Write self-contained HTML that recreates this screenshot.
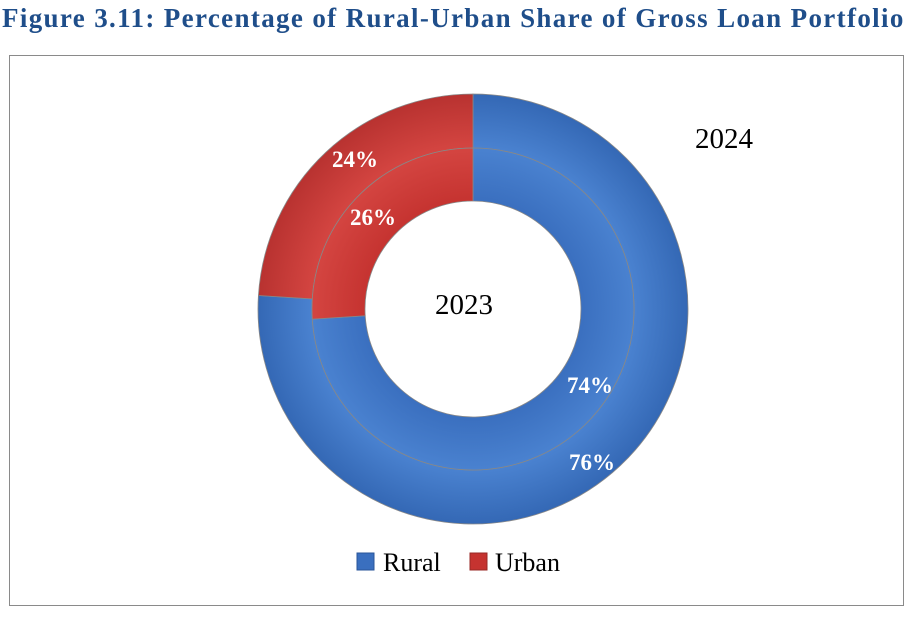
<!DOCTYPE html>
<html><head><meta charset="utf-8"><style>
body{margin:0;background:#fff;width:913px;height:617px;overflow:hidden;font-family:"Liberation Serif",serif}
#title{position:absolute;left:2px;top:3px;font-weight:bold;font-size:27px;letter-spacing:1.35px;color:#1f4e8a;white-space:nowrap}
#frame{position:absolute;left:9px;top:55px;width:895px;height:551px;border:1.5px solid #8a8a8a;box-sizing:border-box}
</style></head><body>
<div id="title">Figure 3.11: Percentage of Rural-Urban Share of Gross Loan Portfolio</div>
<div id="frame"></div>
<svg id="chart" width="913" height="617" style="position:absolute;left:0;top:0">
<defs>
<radialGradient id="gb" cx="473" cy="309" r="215" gradientUnits="userSpaceOnUse">
<stop offset="0.5" stop-color="#3a6fbf"/><stop offset="0.75" stop-color="#4a82d0"/><stop offset="1" stop-color="#3468b5"/></radialGradient>
<radialGradient id="gr" cx="473" cy="309" r="215" gradientUnits="userSpaceOnUse">
<stop offset="0.5" stop-color="#c53330"/><stop offset="0.75" stop-color="#d44541"/><stop offset="1" stop-color="#b83230"/></radialGradient>
</defs>
<g id="rings"></g>
<text x="724" y="148" font-size="29" text-anchor="middle" font-family="Liberation Serif, serif">2024</text>
<text x="464" y="314" font-size="29" text-anchor="middle" font-family="Liberation Serif, serif">2023</text>
<g>
<rect x="357" y="553" width="17" height="17" fill="#3a6fbf" stroke="#2a5599"/>
<text x="383" y="571" font-size="26">Rural</text>
<rect x="470" y="553" width="17" height="17" fill="#c53330" stroke="#982826"/>
<text x="495" y="571" font-size="26">Urban</text>
</g>
</svg>
<script>
const categories=["Rural","Urban"];
const values2024=[76,24];
const values2023=[74,26];
const cx=473,cy=309;
const rings=[{vals:values2024,r0:161,r1:215,name:"2024",lab:[[592,470],[355,167]]},{vals:values2023,r0:108,r1:161,name:"2023",lab:[[590,393],[373,225]]}];
const g=document.getElementById('rings');
const NS="http://www.w3.org/2000/svg";
function pt(r,f){const a=f*2*Math.PI;return [cx+r*Math.sin(a),cy-r*Math.cos(a)];}
rings.forEach(ring=>{
  const tot=ring.vals.reduce((a,b)=>a+b,0);
  let start=0;
  ring.vals.forEach((v,i)=>{
    const f0=start/tot,f1=(start+v)/tot;start+=v;
    const large=(f1-f0)>0.5?1:0;
    const a=pt(ring.r1,f0),b=pt(ring.r1,f1),c=pt(ring.r0,f1),d=pt(ring.r0,f0);
    const p=document.createElementNS(NS,'path');
    p.setAttribute('d',`M${a}A${ring.r1},${ring.r1} 0 ${large} 1 ${b}L${c}A${ring.r0},${ring.r0} 0 ${large} 0 ${d}Z`);
    p.setAttribute('fill',i===0?'url(#gb)':'url(#gr)');
    p.setAttribute('stroke','#888');p.setAttribute('stroke-width','0.8');
    
    
    g.appendChild(p);
    const t=document.createElementNS(NS,'text');
    t.setAttribute('x',ring.lab[i][0]);t.setAttribute('y',ring.lab[i][1]);
    t.setAttribute('fill','#fff');t.setAttribute('font-weight','bold');t.setAttribute('font-size','23');
    t.setAttribute('text-anchor','middle');
    t.textContent=v+'%';
    
    
    g.appendChild(t);
  });
});
</script>
</body></html>
